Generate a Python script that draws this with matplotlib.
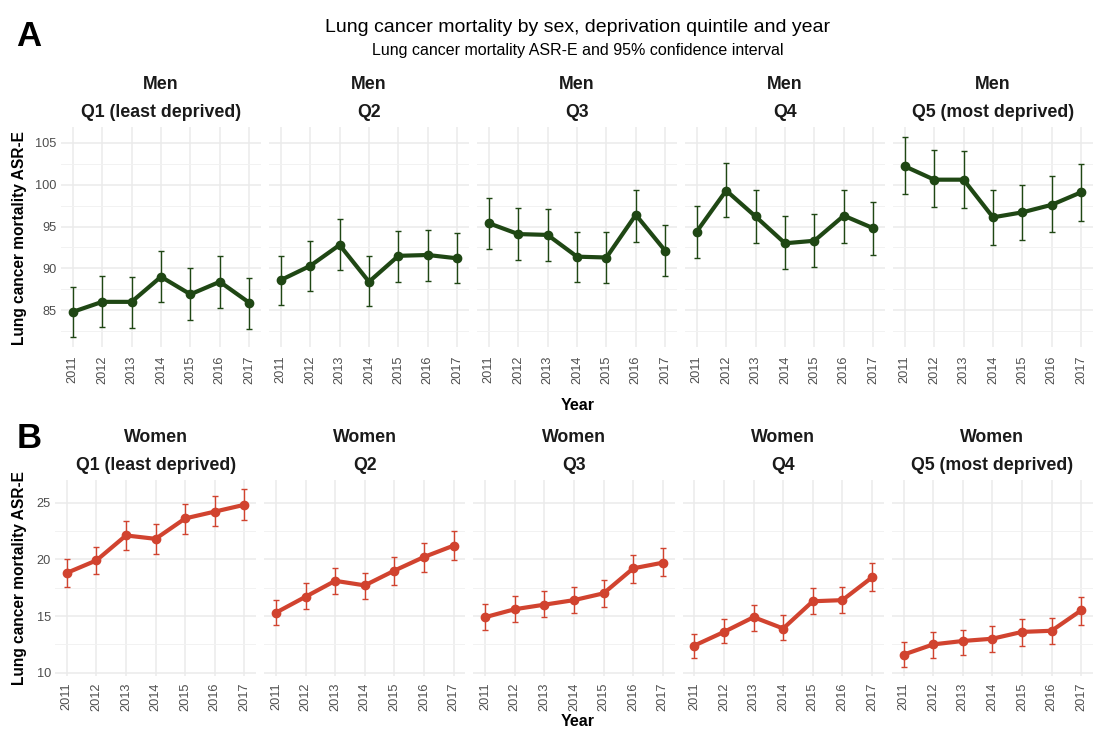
import numpy as np
import matplotlib
matplotlib.use("Agg")
import matplotlib.pyplot as plt

plt.rcParams['font.family'] = ['Liberation Sans', 'DejaVu Sans']

years = [2011, 2012, 2013, 2014, 2015, 2016, 2017]
quintiles = ["Q1 (least deprived)", "Q2", "Q3", "Q4", "Q5 (most deprived)"]

# men: ASR-E, lower CI, upper CI per quintile
men_asr = [
    [84.8, 86.0, 86.0, 89.0, 86.9, 88.4, 85.9],
    [88.6, 90.3, 92.8, 88.4, 91.5, 91.6, 91.2],
    [95.4, 94.1, 94.0, 91.4, 91.3, 96.4, 92.1],
    [94.4, 99.3, 96.2, 93.0, 93.3, 96.3, 94.8],
    [102.2, 100.6, 100.6, 96.1, 96.7, 97.6, 99.1],
]
men_low = [
    [81.8, 83.0, 82.9, 86.0, 83.8, 85.3, 82.8],
    [85.6, 87.3, 89.8, 85.5, 88.4, 88.5, 88.2],
    [92.3, 91.0, 90.9, 88.4, 88.3, 93.2, 89.1],
    [91.3, 96.1, 93.0, 89.9, 90.2, 93.0, 91.6],
    [98.9, 97.3, 97.2, 92.8, 93.4, 94.3, 95.7],
]
men_up = [
    [87.8, 89.1, 89.0, 92.1, 90.0, 91.5, 88.9],
    [91.5, 93.3, 95.9, 91.5, 94.5, 94.6, 94.2],
    [98.4, 97.2, 97.1, 94.4, 94.3, 99.4, 95.2],
    [97.5, 102.6, 99.4, 96.2, 96.5, 99.4, 97.9],
    [105.7, 104.1, 104.0, 99.4, 100.0, 101.0, 102.5],
]

# women
women_asr = [
    [18.8, 19.9, 22.1, 21.8, 23.6, 24.2, 24.8],
    [15.3, 16.7, 18.1, 17.7, 19.0, 20.2, 21.2],
    [14.9, 15.6, 16.0, 16.4, 17.0, 19.2, 19.7],
    [12.4, 13.6, 14.9, 13.9, 16.3, 16.4, 18.4],
    [11.6, 12.5, 12.8, 13.0, 13.6, 13.7, 15.5],
]
women_low = [
    [17.6, 18.7, 20.8, 20.5, 22.2, 22.9, 23.5],
    [14.2, 15.6, 16.9, 16.5, 17.7, 18.9, 19.9],
    [13.8, 14.5, 14.9, 15.3, 15.8, 17.9, 18.5],
    [11.3, 12.6, 13.7, 12.9, 15.2, 15.3, 17.2],
    [10.5, 11.3, 11.6, 11.8, 12.4, 12.5, 14.2],
]
women_up = [
    [20.0, 21.1, 23.4, 23.1, 24.9, 25.6, 26.2],
    [16.4, 17.9, 19.2, 18.8, 20.2, 21.4, 22.5],
    [16.1, 16.8, 17.2, 17.6, 18.2, 20.4, 21.0],
    [13.4, 14.7, 16.0, 15.1, 17.5, 17.6, 19.7],
    [12.7, 13.6, 13.8, 14.1, 14.7, 14.8, 16.7],
]

men_col = "#1f4714"
women_col = "#d1432f"

W, H = 1093, 731
fig = plt.figure(figsize=(W / 100, H / 100), dpi=100)


def px_axes(x0, y0, x1, y1):
    return fig.add_axes([x0 / W, 1 - y1 / H, (x1 - x0) / W, (y1 - y0) / H])


def draw_row(sex, asr, low, up, col, left, top, bottom, yticks, yminor,
             label_y, letter, letter_y, year_y, tpad):
    gap = 8
    pw = (W - left - 4 * gap) / 5
    axes = []
    for i in range(5):
        x0 = left + i * (pw + gap)
        ax = px_axes(x0, top, x0 + pw, bottom)
        a = np.array(asr[i])
        lo = np.array(low[i])
        hi = np.array(up[i])
        ax.errorbar(years, a, yerr=[a - lo, hi - a], fmt='none', ecolor=col,
                    elinewidth=1.0, capsize=2.5, capthick=1.0, zorder=3)
        ax.plot(years, a, color=col, linewidth=3, marker='o', markersize=6, zorder=4)
        ax.set_xlim(2010.6, 2017.4)
        ax.set_xticks(years)
        ax.set_xticklabels([str(y) for y in years], rotation=90)
        ax.set_yticks(yticks)
        ax.set_yticks(yminor, minor=True)
        ax.grid(True, which='major', color='#ebebeb', linewidth=1.1)
        ax.grid(True, which='minor', axis='y', color='#f2f2f2', linewidth=0.7)
        ax.set_axisbelow(True)
        for s in ax.spines.values():
            s.set_visible(False)
        ax.tick_params(which='both', length=0, labelsize=9.2, labelcolor='#4d4d4d')
        ax.tick_params(axis='x', pad=tpad)
        ax.tick_params(axis='y', pad=3)
        if i > 0:
            ax.set_yticklabels([])
        ax.set_title(sex + "\n" + quintiles[i], fontsize=12.8, fontweight='bold',
                     color='#1a1a1a', linespacing=1.9, pad=7)
        axes.append(ax)
    all_lo = min(min(l) for l in low)
    all_hi = max(max(u) for u in up)
    pad = (all_hi - all_lo) * 0.05
    for ax in axes:
        ax.set_ylim(all_lo - pad, all_hi + pad)
    fig.text(20 / W, 1 - label_y / H, "Lung cancer mortality ASR-E", rotation=90,
             fontsize=11.2, fontweight='bold', ha='center', va='center')
    fig.text(578 / W, 1 - year_y / H, "Year", fontsize=11.5, fontweight='bold',
             ha='center', va='center')
    fig.text(29 / W, 1 - letter_y / H, letter, fontsize=25, fontweight='bold',
             ha='center', va='center')


draw_row("Men", men_asr, men_low, men_up, men_col, 61, 127, 347,
         [85, 90, 95, 100, 105], [82.5, 87.5, 92.5, 97.5, 102.5], 238, "A", 37, 405, 6)
draw_row("Women", women_asr, women_low, women_up, women_col, 55, 480, 676,
         [10, 15, 20, 25], [12.5, 17.5, 22.5], 578, "B", 438, 721, 4.5)

fig.text(578 / W, 1 - 27 / H, "Lung cancer mortality by sex, deprivation quintile and year",
         fontsize=14, ha='center', va='center')
fig.text(578 / W, 1 - 50 / H, "Lung cancer mortality ASR-E and 95% confidence interval",
         fontsize=11.5, ha='center', va='center')

fig.savefig("out.png", dpi=100, facecolor='white')
